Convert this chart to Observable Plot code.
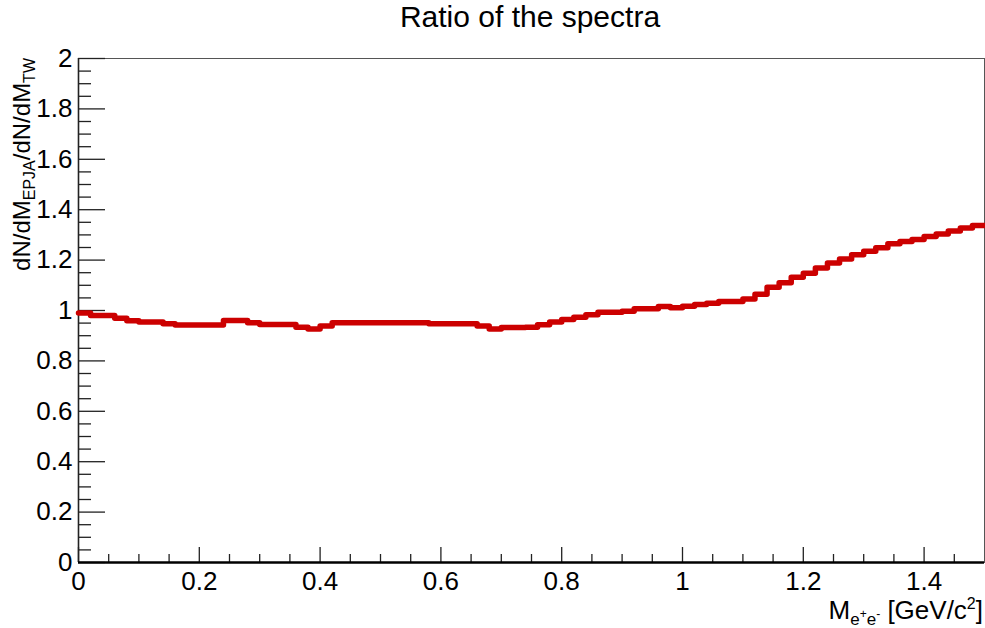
<!DOCTYPE html>
<html>
<head>
<meta charset="utf-8">
<script src="https://cdn.jsdelivr.net/npm/d3@7"></script>
<script src="https://cdn.jsdelivr.net/npm/@observablehq/plot@0.6"></script>
<style>
  html, body { margin: 0; padding: 0; background: #fff; }
  #chart { width: 985px; height: 628px; }
  svg text { font-family: "Liberation Sans", Arial, Helvetica, sans-serif; }
</style>
</head>
<body>
<div id="chart"></div>
<script>
// ---- data ----
const binWidth = 0.02; // GeV/c^2 per bin, bins start at 0
const ratio = [
  0.990, 0.980, 0.980, 0.969, 0.959, 0.954, 0.954, 0.947, 0.942, 0.942,
  0.942, 0.942, 0.960, 0.960, 0.951, 0.944, 0.944, 0.944, 0.934, 0.927,
  0.938, 0.951, 0.951, 0.951, 0.951, 0.951, 0.951, 0.951, 0.951, 0.947,
  0.947, 0.947, 0.947, 0.938, 0.927, 0.933, 0.933, 0.934, 0.943, 0.954,
  0.964, 0.973, 0.983, 0.993, 0.993, 0.997, 1.007, 1.007, 1.016, 1.011,
  1.017, 1.024, 1.029, 1.036, 1.036, 1.046, 1.064, 1.092, 1.110, 1.132,
  1.148, 1.169, 1.188, 1.204, 1.221, 1.235, 1.249, 1.265, 1.274, 1.282,
  1.294, 1.304, 1.315, 1.327, 1.337
];
const xTicks = [0, 0.2, 0.4, 0.6, 0.8, 1.0, 1.2, 1.4];
const xTickLabels = ["0", "0.2", "0.4", "0.6", "0.8", "1", "1.2", "1.4"];
const xMinorTicks = [0.05, 0.1, 0.15, 0.25, 0.3, 0.35, 0.45, 0.5, 0.55, 0.65, 0.7, 0.75,
  0.85, 0.9, 0.95, 1.05, 1.1, 1.15, 1.25, 1.3, 1.35, 1.45];
const yTicks = [0, 0.2, 0.4, 0.6, 0.8, 1.0, 1.2, 1.4, 1.6, 1.8, 2.0];
const yTickLabels = ["0", "0.2", "0.4", "0.6", "0.8", "1", "1.2", "1.4", "1.6", "1.8", "2"];
const yMinorTicks = [0.05, 0.1, 0.15, 0.25, 0.3, 0.35, 0.45, 0.5, 0.55, 0.65, 0.7, 0.75,
  0.85, 0.9, 0.95, 1.05, 1.1, 1.15, 1.25, 1.3, 1.35, 1.45, 1.5, 1.55, 1.65, 1.7, 1.75,
  1.85, 1.9, 1.95];
const title = "Ratio of the spectra";

// ---- layout ----
const W = 985, H = 628;
const mL = 78, mR = 1, mT = 58, mB = 66;
const pw = W - mL - mR, ph = H - mT - mB;

const pts = ratio.map((v, i) => ({x: i * binWidth, y: v}));
pts.push({x: ratio.length * binWidth, y: ratio[ratio.length - 1]});

const chart = Plot.plot({
  width: W, height: H,
  marginLeft: mL, marginRight: mR, marginTop: mT, marginBottom: mB,
  x: {domain: [0, 1.5]},
  y: {domain: [0, 2]},
  style: {background: "white", color: "black", fontSize: "26px",
          fontFamily: "'Liberation Sans', Arial, sans-serif"},
  marks: [
    Plot.frame({stroke: "#555", strokeWidth: 1}),
    Plot.tickY(yMinorTicks, {y: d => d, insetRight: pw - 13, stroke: "#222", strokeWidth: 1.3}),
    Plot.tickY(yTicks, {y: d => d, insetRight: pw - 27, stroke: "#222", strokeWidth: 1.3}),
    Plot.tickX(xMinorTicks, {x: d => d, insetTop: ph - 8, stroke: "#222", strokeWidth: 1.3}),
    Plot.tickX(xTicks, {x: d => d, insetTop: ph - 15, stroke: "#222", strokeWidth: 1.3}),
    Plot.ruleX([0], {stroke: "#222", strokeWidth: 1.6}),
    Plot.ruleY([0], {stroke: "black", strokeWidth: 2.6}),
    Plot.line(pts, {x: "x", y: "y", curve: "step-after", stroke: "#cc0000", strokeWidth: 5.5}),
    Plot.axisY({ticks: yTicks, tickFormat: d => yTickLabels[yTicks.indexOf(d)],
      tickSize: 0, tickPadding: 6, label: null, fontSize: 26}),
    Plot.axisX({ticks: xTicks, tickFormat: d => xTickLabels[xTicks.indexOf(d)],
      tickSize: 0, tickPadding: 9, label: null, fontSize: 26})
  ]
});
document.getElementById("chart").appendChild(chart);

// ---- titles (real text with sub/superscripts) ----
const svg = d3.select(chart);
svg.append("text")
  .attr("x", 530).attr("y", 27)
  .attr("text-anchor", "middle")
  .attr("font-size", 30)
  .attr("fill", "black")
  .text(title);

// y-axis title: dN/dM_{EPJA}/dN/dM_{TW}
const yt = svg.append("text")
  .attr("transform", `translate(30,${mT}) rotate(-90)`)
  .attr("text-anchor", "end")
  .attr("font-size", 24)
  .attr("fill", "black");
yt.append("tspan").text("dN/dM");
yt.append("tspan").attr("font-size", 16).attr("dy", 5).text("EPJA");
yt.append("tspan").attr("dy", -5).text("/dN/dM");
yt.append("tspan").attr("font-size", 16).attr("dy", 5).text("TW");

// x-axis title: M_{e^{+}e^{-}} [GeV/c^{2}]
const xt = svg.append("text")
  .attr("x", 983).attr("y", 619)
  .attr("text-anchor", "end")
  .attr("font-size", 26)
  .attr("fill", "black");
xt.append("tspan").text("M");
xt.append("tspan").attr("font-size", 17).attr("dy", 6).text("e");
xt.append("tspan").attr("font-size", 12).attr("dy", -7).text("+");
xt.append("tspan").attr("font-size", 17).attr("dy", 7).text("e");
xt.append("tspan").attr("font-size", 12).attr("dy", -7).text("-");
xt.append("tspan").attr("dy", 1).text(" [GeV/c");
xt.append("tspan").attr("font-size", 16).attr("dy", -10).text("2");
xt.append("tspan").attr("dy", 10).text("]");
</script>
</body>
</html>
